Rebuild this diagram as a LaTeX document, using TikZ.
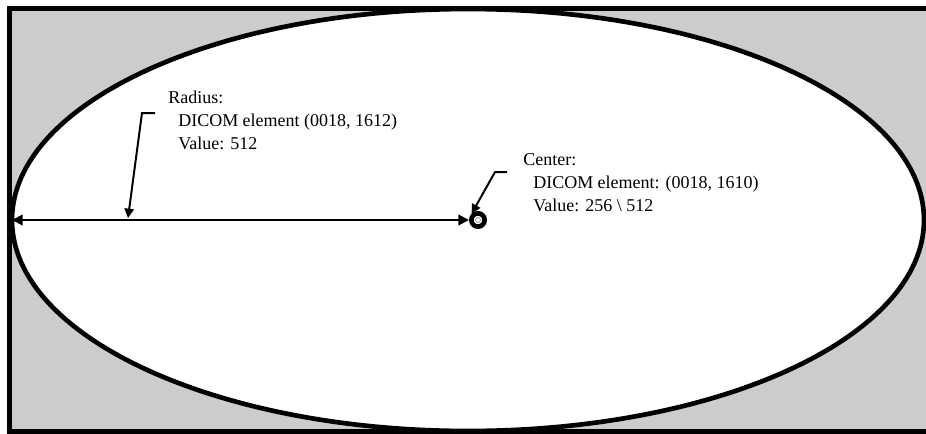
\documentclass[tikz,border=0pt]{standalone}
\usepackage{fontspec}
\setmainfont{Liberation Serif}
\usetikzlibrary{arrows.meta}
\begin{document}
\begin{tikzpicture}[x=0.75pt, y=-0.75pt,
	textlabel/.style = {align=left, anchor=base west, inner sep=0pt, font=\fontsize{13.5}{17.25}\selectfont},
	pointer/.style = {line width=1.5pt, -{Triangle[length=7pt, width=7pt]}},
	centermark/.style = {draw, circle, line width=3.5pt, minimum size=10pt, inner sep=0pt}]
	\useasboundingbox (0,0) rectangle (926,433);
	\clip (0,0) rectangle (926,433);
	% frame and field of view
	\draw[line width=3.75pt, fill=black!20] (9.5,8) rectangle (960,431);
	\draw[line width=3.5pt, fill=white] (468,220) ellipse [x radius=456, y radius=211];
	% center and radius
	\node[centermark] (ctr) at (478,220) {};
	\draw[black!40, line width=0.6pt] (ctr.center) circle [radius=2.5];
	\coordinate (leftend) at (12,220);
	\draw[line width=1.5pt, {Triangle[length=8pt, width=8pt]}-{Triangle[length=8pt, width=8pt]}] (leftend) -- (ctr.west);
	% labels
	\node[textlabel] (radiuslabel) at (168,149) {Radius:\\\hspace*{7.5pt}DICOM element (0018, 1612)\\\hspace*{7.5pt}Value: 512};
	\node[textlabel] (centerlabel) at (523,211) {Center:\\\hspace*{7.5pt}DICOM element: (0018, 1610)\\\hspace*{7.5pt}Value: 256 \textbackslash\ 512};
	% pointers
	\coordinate (rstub) at (155,113);
	\coordinate (relbow) at (142,113);
	\coordinate (rtip) at (128,218);
	\draw[pointer] (rstub) -- (relbow) -- (rtip);
	\coordinate (cstub) at (507,172);
	\coordinate (celbow) at (495,172);
	\draw[pointer] (cstub) -- (celbow) -- (ctr.north west);
\end{tikzpicture}
\end{document}
